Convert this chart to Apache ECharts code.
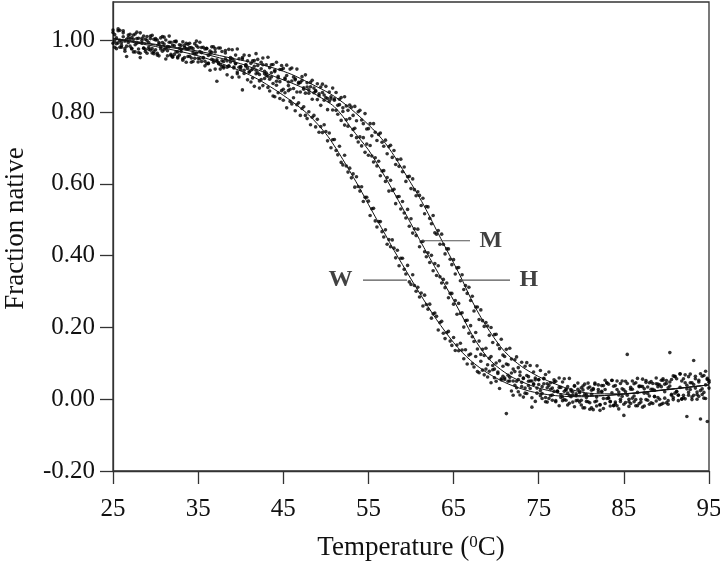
<!DOCTYPE html>
<html>
<head>
<meta charset="utf-8">
<script src="https://cdn.jsdelivr.net/npm/echarts@6/dist/echarts.min.js"></script>
<style>html,body{margin:0;padding:0;background:#fff;}#c{width:720px;height:573px;}</style>
</head>
<body>
<div id="c"></div>
<script>
// Temperatures (°C) of the measured points
const temps = [
25,25.2,25.4,25.6,25.8, 26,26.2,26.4,26.6,26.8, 27,27.2,27.4,27.6,27.8, 28,28.2,28.4,28.6,28.8, 29,29.2,29.4,29.6,29.8,
30,30.2,30.4,30.6,30.8, 31,31.2,31.4,31.6,31.8, 32,32.2,32.4,32.6,32.8, 33,33.2,33.4,33.6,33.8, 34,34.2,34.4,34.6,34.8,
35,35.2,35.4,35.6,35.8, 36,36.2,36.4,36.6,36.8, 37,37.2,37.4,37.6,37.8, 38,38.2,38.4,38.6,38.8, 39,39.2,39.4,39.6,39.8,
40,40.2,40.4,40.6,40.8, 41,41.2,41.4,41.6,41.8, 42,42.2,42.4,42.6,42.8, 43,43.2,43.4,43.6,43.8, 44,44.2,44.4,44.6,44.8,
45,45.2,45.4,45.6,45.8, 46,46.2,46.4,46.6,46.8, 47,47.2,47.4,47.6,47.8, 48,48.2,48.4,48.6,48.8, 49,49.2,49.4,49.6,49.8,
50,50.2,50.4,50.6,50.8, 51,51.2,51.4,51.6,51.8, 52,52.2,52.4,52.6,52.8, 53,53.2,53.4,53.6,53.8, 54,54.2,54.4,54.6,54.8,
55,55.2,55.4,55.6,55.8, 56,56.2,56.4,56.6,56.8, 57,57.2,57.4,57.6,57.8, 58,58.2,58.4,58.6,58.8, 59,59.2,59.4,59.6,59.8,
60,60.2,60.4,60.6,60.8, 61,61.2,61.4,61.6,61.8, 62,62.2,62.4,62.6,62.8, 63,63.2,63.4,63.6,63.8, 64,64.2,64.4,64.6,64.8,
65,65.2,65.4,65.6,65.8, 66,66.2,66.4,66.6,66.8, 67,67.2,67.4,67.6,67.8, 68,68.2,68.4,68.6,68.8, 69,69.2,69.4,69.6,69.8,
70,70.2,70.4,70.6,70.8, 71,71.2,71.4,71.6,71.8, 72,72.2,72.4,72.6,72.8, 73,73.2,73.4,73.6,73.8, 74,74.2,74.4,74.6,74.8,
75,75.2,75.4,75.6,75.8, 76,76.2,76.4,76.6,76.8, 77,77.2,77.4,77.6,77.8, 78,78.2,78.4,78.6,78.8, 79,79.2,79.4,79.6,79.8,
80,80.2,80.4,80.6,80.8, 81,81.2,81.4,81.6,81.8, 82,82.2,82.4,82.6,82.8, 83,83.2,83.4,83.6,83.8, 84,84.2,84.4,84.6,84.8,
85,85.2,85.4,85.6,85.8, 86,86.2,86.4,86.6,86.8, 87,87.2,87.4,87.6,87.8, 88,88.2,88.4,88.6,88.8, 89,89.2,89.4,89.6,89.8,
90,90.2,90.4,90.6,90.8, 91,91.2,91.4,91.6,91.8, 92,92.2,92.4,92.6,92.8, 93,93.2,93.4,93.6,93.8, 94,94.2,94.4,94.6,94.8,
95];

// Measured fraction native, W
const measW = [
1.022,0.981,1.007,0.993,1.028, 0.986,1.010,0.970,0.955,0.994, 1.004,0.978,1.015,0.968,1.005, 0.966,0.952,1.006,0.978,0.969, 1.011,0.981,0.973,1.014,0.963,
0.974,1.001,0.957,0.982,0.994, 0.990,0.948,0.983,0.995,0.958, 0.953,0.997,0.968,0.954,0.978, 0.975,0.949,0.986,0.939,0.976, 0.980,0.939,0.965,0.950,0.985,
0.981,0.949,0.941,0.981,0.929, 0.935,0.958,0.917,0.967,0.939, 0.920,0.886,0.935,0.920,0.943, 0.923,0.949,0.904,0.929,0.940, 0.897,0.926,0.936,0.907,0.898,
0.927,0.862,0.917,0.928,0.890, 0.912,0.884,0.920,0.872,0.907, 0.910,0.867,0.891,0.874,0.907, 0.902,0.869,0.859,0.898,0.845, 0.843,0.886,0.854,0.838,0.860,
0.833,0.854,0.812,0.860,0.830, 0.823,0.840,0.804,0.821,0.826, 0.791,0.810,0.815,0.791,0.782, 0.801,0.765,0.786,0.791,0.759, 0.780,0.744,0.760,0.743,0.765,
0.746,0.720,0.742,0.701,0.723, 0.724,0.693,0.681,0.705,0.660, 0.653,0.680,0.650,0.633,0.644, 0.617,0.628,0.591,0.620,0.593, 0.580,0.592,0.551,0.563,0.563,
0.552,0.512,0.531,0.532,0.497, 0.480,0.495,0.495,0.467,0.452, 0.472,0.432,0.445,0.425,0.444, 0.421,0.394,0.415,0.372,0.393, 0.393,0.362,0.349,0.373,0.327,
0.320,0.347,0.317,0.301,0.312, 0.285,0.296,0.260,0.290,0.264, 0.251,0.265,0.226,0.238,0.240, 0.231,0.193,0.214,0.217,0.184, 0.169,0.186,0.189,0.162,0.150,
0.172,0.136,0.151,0.135,0.156, 0.137,0.113,0.138,0.098,0.123, 0.126,0.099,0.090,0.119,0.077, 0.074,0.106,0.081,0.068,0.084, 0.062,0.078,0.046,0.082,0.060,
0.050,0.076,0.030,0.054,0.064, 0.059,-0.040,0.050,0.061,0.023, 0.011,0.039,0.050,0.021,0.012, 0.047,0.006,0.031,0.016,0.050, 0.030,0.004,0.041,-0.006,0.031,
0.041,0.010,0.002,0.043,-0.007, -0.008,0.038,0.010,-0.003,0.022, -0.004,0.021,-0.018,0.033,0.007, -0.001,0.027,-0.016,0.010,0.023, 0.020,-0.021,0.015,0.028,-0.008,
0.032,-0.024,0.014,-0.006,0.045, -0.028,0.014,0.030,-0.007,-0.019, 0.020,-0.015,0.038,-0.026,0.027, 0.045,0.003,-0.007,0.052,-0.018, -0.008,0.027,-0.027,0.044,0.008,
-0.014,0.050,0.011,-0.007,0.028, 0.003,0.043,-0.018,0.019,0.037, 0.036,-0.022,0.029,0.047,-0.003, 0.046,-0.010,0.028,0.008,0.059, 0.035,0.000,0.053,-0.011,0.042,
-0.010,0.032,0.048,0.011,-0.001, 0.063,0.021,0.011,0.070,0.000, 0.011,0.046,-0.048,0.063,0.027, 0.006,0.108,0.031,0.013,0.048, 0.024,0.064,0.003,0.040,0.058,
0.052];

// Measured fraction native, M
const measM = [
1.029,0.998,0.991,1.032,0.981, 0.981,1.027,0.998,0.984,1.008, 0.984,1.008,0.968,1.018,0.992, 1.006,0.964,1.000,1.012,0.975, 0.964,0.994,1.005,0.977,0.969,
1.005,0.964,0.990,0.976,1.011, 0.974,1.001,0.957,0.982,0.995, 0.987,0.961,0.998,0.951,0.988, 0.986,0.945,0.980,0.992,0.955, 0.956,0.980,0.941,0.991,0.964,
0.940,0.969,0.980,0.951,0.942, 0.978,0.937,0.962,0.947,0.982, 0.977,0.946,0.938,0.979,0.927, 0.927,0.972,0.943,0.928,0.952, 0.949,0.923,0.959,0.912,0.949,
0.926,0.952,0.908,0.932,0.943, 0.912,0.936,0.895,0.944,0.917, 0.930,0.887,0.921,0.932,0.894, 0.932,0.900,0.892,0.932,0.880, 0.917,0.875,0.900,0.885,0.919,
0.864,0.892,0.902,0.874,0.864, 0.887,0.866,0.893,0.856,0.883, 0.856,0.888,0.864,0.853,0.870, 0.853,0.871,0.836,0.854,0.860, 0.835,0.851,0.819,0.855,0.833,
0.841,0.807,0.830,0.837,0.806, 0.833,0.805,0.794,0.821,0.777, 0.802,0.764,0.779,0.761,0.782, 0.735,0.752,0.755,0.729,0.717, 0.731,0.706,0.729,0.688,0.711,
0.680,0.707,0.678,0.661,0.673, 0.650,0.663,0.623,0.636,0.637, 0.607,0.618,0.580,0.610,0.582, 0.585,0.545,0.564,0.565,0.530, 0.551,0.519,0.505,0.529,0.482,
0.503,0.463,0.475,0.456,0.474, 0.425,0.439,0.440,0.411,0.397, 0.408,0.381,0.401,0.358,0.378, 0.345,0.372,0.341,0.324,0.334, 0.311,0.324,0.283,0.295,0.295,
0.265,0.275,0.237,0.267,0.239, 0.241,0.201,0.219,0.220,0.184, 0.205,0.174,0.161,0.186,0.140, 0.162,0.125,0.139,0.122,0.142, 0.096,0.114,0.119,0.094,0.084,
0.101,0.072,0.107,0.057,0.092, 0.055,0.098,0.067,0.051,0.073, 0.051,0.077,0.032,0.055,0.066, 0.035,0.058,0.017,0.066,0.038, 0.051,-0.022,0.043,0.054,0.017,
0.055,0.024,0.016,0.057,0.005, 0.043,0.002,0.028,0.012,0.047, -0.007,0.022,0.033,0.005,-0.004, 0.022,-0.003,0.035,-0.011,0.027, -0.008,0.038,0.010,-0.003,0.022,
-0.003,0.037,-0.024,0.013,0.031, -0.010,0.025,-0.029,0.042,0.006, 0.027,-0.031,0.020,0.038,-0.012, 0.046,0.004,-0.006,0.053,-0.017, 0.038,-0.018,0.020,0.000,0.051,
-0.045,0.021,0.125,0.000,-0.012, 0.028,-0.007,0.046,-0.018,0.035, -0.008,0.056,0.017,-0.001,0.034, 0.009,0.049,-0.012,0.025,0.043, 0.005,0.040,-0.014,0.057,0.021,
0.044,-0.014,0.037,0.055,0.005, 0.064,0.022,0.012,0.071,0.001, 0.057,0.001,0.039,0.019,0.070, -0.001,0.041,0.057,0.020,0.008, -0.055,0.013,0.066,0.002,0.055,
0.031];

// Measured fraction native, H
const measH = [
0.992,1.016,0.977,1.027,1.000, 0.994,1.021,0.977,1.003,1.015, 1.017,0.976,1.003,0.988,1.023, 0.976,1.021,0.992,0.979,1.003, 1.000,0.975,1.012,0.965,1.003,
1.001,0.959,0.994,1.007,0.970, 1.009,0.978,0.971,1.012,0.961, 0.955,0.985,0.996,0.968,0.959, 0.969,0.996,0.952,0.977,0.989, 0.992,0.951,0.977,0.962,0.998,
0.950,0.995,0.966,0.952,0.976, 0.977,0.935,0.970,0.982,0.945, 0.968,0.942,0.979,0.932,0.969, 0.941,0.965,0.925,0.975,0.948, 0.974,0.943,0.935,0.976,0.925,
0.919,0.948,0.959,0.931,0.922, 0.958,0.917,0.943,0.928,0.963, 0.947,0.905,0.939,0.951,0.914, 0.909,0.953,0.924,0.910,0.933, 0.913,0.939,0.895,0.919,0.930,
0.922,0.895,0.931,0.884,0.920, 0.923,0.898,0.890,0.920,0.880, 0.883,0.899,0.868,0.904,0.882, 0.862,0.883,0.889,0.867,0.858, 0.879,0.846,0.870,0.878,0.848,
0.872,0.838,0.856,0.843,0.867, 0.837,0.855,0.819,0.836,0.841, 0.812,0.843,0.817,0.805,0.820, 0.814,0.791,0.816,0.776,0.801, 0.805,0.778,0.768,0.796,0.753,
0.754,0.768,0.734,0.768,0.744, 0.721,0.738,0.742,0.716,0.705, 0.722,0.684,0.704,0.708,0.674, 0.693,0.654,0.668,0.649,0.669, 0.634,0.647,0.607,0.620,0.621,
0.587,0.614,0.584,0.567,0.578, 0.568,0.540,0.560,0.517,0.537, 0.536,0.504,0.489,0.512,0.464, 0.460,0.470,0.432,0.460,0.432, 0.405,0.419,0.419,0.390,0.375,
0.389,0.349,0.366,0.367,0.330, 0.347,0.306,0.317,0.295,0.312, 0.275,0.287,0.246,0.257,0.257, 0.222,0.249,0.219,0.203,0.214, 0.204,0.178,0.200,0.158,0.180,
0.181,0.152,0.141,0.167,0.123, 0.119,0.139,0.096,0.142,0.112, 0.084,0.110,0.118,0.088,0.076, 0.103,0.059,0.092,0.102,0.063, 0.094,0.051,0.076,0.059,0.093,
0.054,0.080,0.035,0.058,0.069, 0.032,0.076,0.046,0.031,0.054, 0.050,0.023,0.059,0.012,0.048, 0.057,0.026,0.017,0.058,0.007, 0.012,0.036,-0.004,0.045,0.018,
-0.016,0.026,0.042,0.005,-0.007, 0.034,-0.024,0.027,0.045,-0.005, 0.040,-0.016,0.022,0.002,0.053, 0.002,0.042,-0.019,0.018,0.036, -0.013,0.051,0.012,-0.006,0.029,
0.026,-0.009,0.044,-0.020,0.033, 0.051,0.009,-0.001,0.058,-0.012, 0.000,0.035,-0.019,0.052,0.016, -0.014,0.028,0.044,0.007,-0.005, 0.042,-0.016,0.035,0.053,0.003,
0.052,-0.004,0.130,0.014,0.065, 0.017,0.057,-0.004,0.033,0.051, 0.004,0.068,0.029,0.011,0.046, 0.046,0.011,0.064,0.000,0.053, 0.071,0.029,0.019,0.078,-0.062,
0.047];

// Fitted curves
const fitT = [25,30,35,40,42,44,46,48,50,51,52,53,54,55,56,57,58,59,60,61,62,63,64,65,66,67,68,69,70,71,72,73,74,75,76,77,78,80,82,85,90,95];
const fitW = [1.004,0.983,0.957,0.915,0.892,0.863,0.830,0.792,0.740,0.706,0.668,0.628,0.587,0.543,0.500,0.458,0.415,0.375,0.335,0.296,0.258,0.222,0.189,0.158,0.131,0.108,0.089,0.073,0.059,0.047,0.037,0.029,0.022,0.017,0.013,0.010,0.008,0.007,0.009,0.014,0.026,0.040];
const fitM = [1.005,0.987,0.966,0.935,0.918,0.899,0.881,0.860,0.832,0.815,0.788,0.755,0.725,0.695,0.657,0.618,0.576,0.533,0.489,0.445,0.402,0.360,0.318,0.276,0.232,0.187,0.148,0.116,0.093,0.075,0.060,0.049,0.039,0.031,0.025,0.019,0.014,0.010,0.010,0.015,0.027,0.040];
const fitH = [1.006,0.989,0.970,0.945,0.935,0.922,0.905,0.882,0.858,0.844,0.827,0.808,0.787,0.765,0.741,0.713,0.679,0.641,0.602,0.562,0.518,0.471,0.425,0.380,0.333,0.282,0.237,0.198,0.163,0.133,0.110,0.091,0.076,0.063,0.052,0.042,0.033,0.020,0.015,0.015,0.027,0.040];

// Curve labels and their leader lines (data units)
const labelText = ['W','M','H'];
const leaderStart = [54.36, 61.06, 65.76];
const leaderEnd   = [59.53, 66.93, 71.63];
const leaderLevel = [0.332, 0.4416, 0.332];

// Tick values
const xTicks = [25,35,45,55,65,75,85,95];
const yTicks = [-0.2,0,0.2,0.4,0.6,0.8,1.0];

const FONT = 'Liberation Serif, Times New Roman, serif';
const pairs = (xs, ys) => xs.map((x, i) => [x, ys[i]]);

const series = [];
[measW, measM, measH].forEach((m, k) => {
  series.push({
    type: 'scatter', name: 'pts' + k, data: pairs(temps, m),
    symbol: 'circle', symbolSize: 3.6,
    itemStyle: { color: '#000' }, silent: true, z: 2
  });
});
[fitW, fitM, fitH].forEach((f, k) => {
  series.push({
    type: 'line', name: 'fit' + k, data: pairs(fitT, f),
    smooth: 0.3, symbol: 'none',
    lineStyle: { color: '#111', width: 1 }, silent: true, z: 3
  });
});
labelText.forEach((t, k) => {
  series.push({
    type: 'line', name: 'lead' + t,
    data: [[leaderStart[k], leaderLevel[k]], [leaderEnd[k], leaderLevel[k]]],
    symbol: 'none', lineStyle: { color: '#555', width: 1.2 }, silent: true, z: 4
  });
  const anchorX = k === 0 ? leaderStart[k] : leaderEnd[k];
  series.push({
    type: 'scatter', name: 'lab' + t,
    data: [[anchorX, leaderLevel[k]]],
    symbolSize: 1, itemStyle: { color: 'rgba(0,0,0,0)' }, silent: true, z: 5,
    label: {
      show: true, formatter: t, position: k === 0 ? 'left' : 'right',
      distance: k === 0 ? 10 : 9,
      fontFamily: FONT, fontWeight: 'bold', fontSize: 24, color: '#111'
    }
  });
});

const chart = echarts.init(document.getElementById('c'), null, { renderer: 'canvas' });
chart.setOption({
  animation: false,
  backgroundColor: '#fff',
  grid: { left: 113, right: 11, top: 2, bottom: 102, show: true, borderColor: '#333', borderWidth: 1.3,
          containLabel: false, outerBoundsMode: 'none' },
  xAxis: {
    type: 'value', min: 25, max: 95,
    name: 'Temperature ({sup|0}C)', nameLocation: 'middle', nameGap: 63,
    nameTextStyle: {
      fontFamily: FONT, fontSize: 27, color: '#111',
      rich: { sup: { fontFamily: FONT, fontSize: 17, color: '#111', verticalAlign: 'top', lineHeight: 16, padding: [0, 0, 6, 0] } }
    },
    axisLine: { show: true, onZero: false, lineStyle: { color: '#333', width: 1.3 } },
    axisTick: { show: true, inside: false, length: 13, customValues: xTicks, lineStyle: { color: '#333', width: 1.3 } },
    axisLabel: { customValues: xTicks, margin: 26, fontFamily: FONT, fontSize: 25, color: '#111' },
    splitLine: { show: false }
  },
  yAxis: {
    type: 'value', min: -0.2, max: 1.107,
    name: 'Fraction native', nameLocation: 'middle', nameGap: 84, nameRotate: 90,
    nameTextStyle: { fontFamily: FONT, fontSize: 27, color: '#111', padding: [0, 0, 0, 16] },
    axisLine: { show: true, onZero: false, lineStyle: { color: '#333', width: 1.3 } },
    axisTick: { show: true, inside: false, length: 13, customValues: yTicks, lineStyle: { color: '#333', width: 1.3 } },
    axisLabel: { customValues: yTicks, margin: 18, fontFamily: FONT, fontSize: 25, color: '#111',
      formatter: v => v.toFixed(2) },
    splitLine: { show: false }
  },
  series: series
});
</script>
</body>
</html>
